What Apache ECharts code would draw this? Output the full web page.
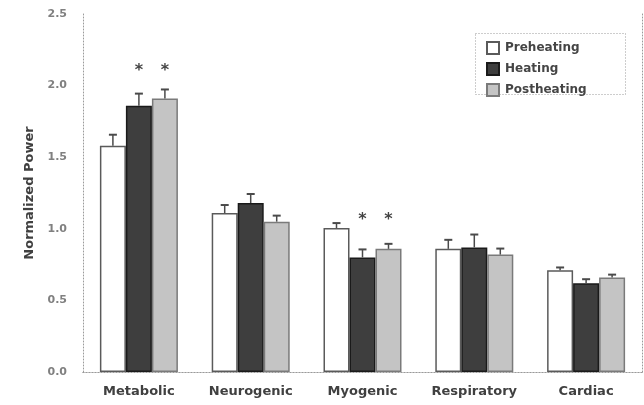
<!DOCTYPE html>
<html>
<head>
<meta charset="utf-8">
<script src="https://cdn.jsdelivr.net/npm/echarts@6/dist/echarts.min.js"></script>
<style>
html,body{margin:0;padding:0;background:#fff;}
#chart{width:644px;height:405px;}
</style>
</head>
<body>
<div id="chart"></div>
<script>
const categories = ['Metabolic', 'Neurogenic', 'Myogenic', 'Respiratory', 'Cardiac'];
const seriesNames = ['Preheating', 'Heating', 'Postheating'];
const preheating = [1.58, 1.11, 1.005, 0.86, 0.71];
const heating = [1.86, 1.18, 0.80, 0.87, 0.62];
const postheating = [1.91, 1.05, 0.86, 0.82, 0.66];
const preErr = [0.077, 0.056, 0.035, 0.063, 0.02];
const heatErr = [0.084, 0.063, 0.056, 0.09, 0.028];
const postErr = [0.063, 0.042, 0.035, 0.042, 0.02];
const preSig = [null, null, null, null, null];
const heatSig = [2.12, null, 1.075, null, null];
const postSig = [2.12, null, 1.075, null, null];
const yMin = 0, yMax = 2.5, yStep = 0.5;

const FONT = 'DejaVu Sans';
const BAR_W = 26;
const styles = [
  {color: '#ffffff', borderColor: '#5a5a5a', borderWidth: 1.5},
  {color: '#3e3e3e', borderColor: '#1a1a1a', borderWidth: 1.5},
  {color: '#c4c4c4', borderColor: '#7a7a7a', borderWidth: 1.5}
];
const means = [preheating, heating, postheating];
const errs = [preErr, heatErr, postErr];
const sigs = [preSig, heatSig, postSig];

const chart = echarts.init(document.getElementById('chart'), null, {renderer: 'canvas'});

const dotted = {show: true, lineStyle: {color: '#9a9a9a', width: 1, type: [1, 2]}};

const series = [];
seriesNames.forEach((name, s) => {
  series.push({
    name: name,
    type: 'bar',
    data: means[s],
    barWidth: BAR_W,
    barGap: '0%',
    itemStyle: styles[s],
    emphasis: {disabled: true}
  });
});
seriesNames.forEach((name, s) => {
  series.push({
    type: 'custom',
    silent: true,
    z: 5,
    data: categories.map((c, i) => [i, means[s][i], errs[s][i], sigs[s][i] == null ? -1 : sigs[s][i]]),
    renderItem: function (params, api) {
      const i = api.value(0), v = api.value(1), e = api.value(2), sg = api.value(3);
      const off = (s - 1) * BAR_W;
      const b = api.coord([i, v]);
      const t = api.coord([i, v + e]);
      const x = b[0] + off;
      const children = [
        {type: 'line', shape: {x1: x, y1: b[1], x2: x, y2: t[1]}, style: {stroke: '#4a4a4a', lineWidth: 1.5}},
        {type: 'line', shape: {x1: x - 4, y1: t[1], x2: x + 4, y2: t[1]}, style: {stroke: '#4a4a4a', lineWidth: 2}}
      ];
      if (sg > 0) {
        const p = api.coord([i, sg]);
        children.push({type: 'text', x: x, y: p[1] + 2, style: {text: '*', fill: '#444', font: 'bold 16px ' + FONT, align: 'center', verticalAlign: 'middle'}});
      }
      return {type: 'group', children: children};
    }
  });
});

chart.setOption({
  animation: false,
  backgroundColor: '#fff',
  textStyle: {fontFamily: FONT},
  grid: {left: 83, right: 2, top: 14, bottom: 33, containLabel: false},
  legend: {
    data: seriesNames,
    orient: 'vertical',
    left: 481,
    top: 36,
    itemWidth: 12,
    itemHeight: 12,
    itemGap: 7,
    icon: 'rect',
    selectedMode: false,
    textStyle: {fontFamily: FONT, fontSize: 12, fontWeight: 'bold', color: '#454545', padding: [0, 0, 0, 1]}
  },
  xAxis: [
    {
      type: 'category',
      data: categories,
      axisLine: dotted,
      axisTick: {show: false},
      axisLabel: {fontFamily: FONT, fontSize: 13, fontWeight: 'bold', color: '#404040', margin: 13},
      splitLine: {show: false}
    },
    {
      type: 'category',
      data: categories,
      position: 'top',
      axisLine: dotted,
      axisTick: {show: false},
      axisLabel: {show: false}
    }
  ],
  yAxis: [
    {
      type: 'value',
      min: yMin, max: yMax, interval: yStep,
      name: 'Normalized Power',
      nameLocation: 'middle',
      nameGap: 47,
      nameTextStyle: {fontFamily: FONT, fontSize: 13, fontWeight: 'bold', color: '#404040'},
      axisLine: dotted,
      axisTick: {show: false},
      axisLabel: {fontFamily: FONT, fontSize: 11, fontWeight: 'bold', color: '#808080', margin: 16, formatter: v => v.toFixed(1)},
      splitLine: {show: false}
    },
    {
      type: 'value',
      min: yMin, max: yMax, interval: yStep,
      position: 'right',
      axisLine: dotted,
      axisTick: {show: false},
      axisLabel: {show: false},
      splitLine: {show: false}
    }
  ],
  graphic: [
    {type: 'rect', left: 473, top: 31, shape: {width: 150, height: 61}, style: {fill: 'none', stroke: '#9a9a9a', lineWidth: 1, lineDash: [1, 2]}, z: 0}
  ],
  series: series
});
</script>
</body>
</html>
